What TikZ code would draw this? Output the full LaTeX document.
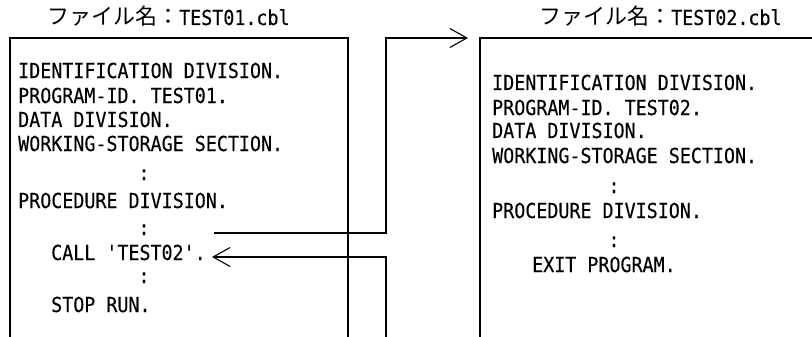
\documentclass[tikz,border=0pt]{standalone}
\usepackage{fontspec}
\newfontfamily\codefont[FakeStretch=0.89,FakeBold=0.3]{DejaVu Sans Mono}
\newfontfamily\cjk{Noto Sans CJK JP}
\usetikzlibrary{arrows.meta}
\begin{document}
\begin{tikzpicture}[x=1pt,y=-1pt,
  code/.style={anchor=base west,inner sep=0pt,font=\codefont\fontsize{20.6}{24}\selectfont},
  dots/.style={anchor=base,inner sep=0pt,font=\codefont\fontsize{20.6}{24}\selectfont},
  title/.style={anchor=base west,inner sep=0pt,font=\codefont\fontsize{20.6}{24}\selectfont},
  frame/.style={line width=1.1pt,line cap=rect},
  link/.style={line width=1.1pt,-{Straight Barb[length=17pt,width=19pt]}}]
\useasboundingbox (0,0) rectangle (812,337);
% frames
\coordinate (Lb1) at (10,337);
\coordinate (Ltl) at (10,38);
\coordinate (Ltr) at (348,38);
\coordinate (Lb2) at (348,337);
\draw[frame] (Lb1) -- (Ltl) -- (Ltr) -- (Lb2);
\coordinate (Rb) at (480,337);
\coordinate (Rtl) at (480,38);
\coordinate (Rtr) at (812,38);
\draw[frame] (Rb) -- (Rtl) -- (Rtr);
% titles
\node[title] (t1) at (47,25) {{\cjk\fontsize{22}{24}\selectfont ファイル名：}TEST01.cbl};
\node[title] (t2) at (539,25) {{\cjk\fontsize{22}{24}\selectfont ファイル名：}TEST02.cbl};
% left program
\node[code] (l1) at (18,78) {IDENTIFICATION DIVISION.};
\node[code] (l2) at (18,103) {PROGRAM-ID. TEST01.};
\node[code] (l3) at (18,127) {DATA DIVISION.};
\node[code] (l4) at (18,151) {WORKING-STORAGE SECTION.};
\node[dots] (l5) at (144,180) {:};
\node[code] (l6) at (18,208) {PROCEDURE DIVISION.};
\node[dots] (l7) at (144,235) {:};
\node[code] (l8) at (51,260) {CALL 'TEST02'.};
\node[dots] (l9) at (144,283) {:};
\node[code] (l10) at (51,312) {STOP RUN.};
% right program
\node[code] (r1) at (492,90) {IDENTIFICATION DIVISION.};
\node[code] (r2) at (492,115) {PROGRAM-ID. TEST02.};
\node[code] (r3) at (492,138) {DATA DIVISION.};
\node[code] (r4) at (492,163) {WORKING-STORAGE SECTION.};
\node[dots] (r5) at (614,193) {:};
\node[code] (r6) at (492,218) {PROCEDURE DIVISION.};
\node[dots] (r7) at (614,247) {:};
\node[code] (r8) at (532,272) {EXIT PROGRAM.};
% connectors
\coordinate (a0) at (214,233);
\coordinate (a1) at (386,38);
\coordinate (a2) at (468,38);
\draw[link] (a0) -| (a1) -- (a2);
\coordinate (b0) at (386,337);
\coordinate (b1) at (386,257);
\coordinate (b2) at (212,257);
\draw[link] (b0) -- (b1) -- (b2);
\end{tikzpicture}
\end{document}
